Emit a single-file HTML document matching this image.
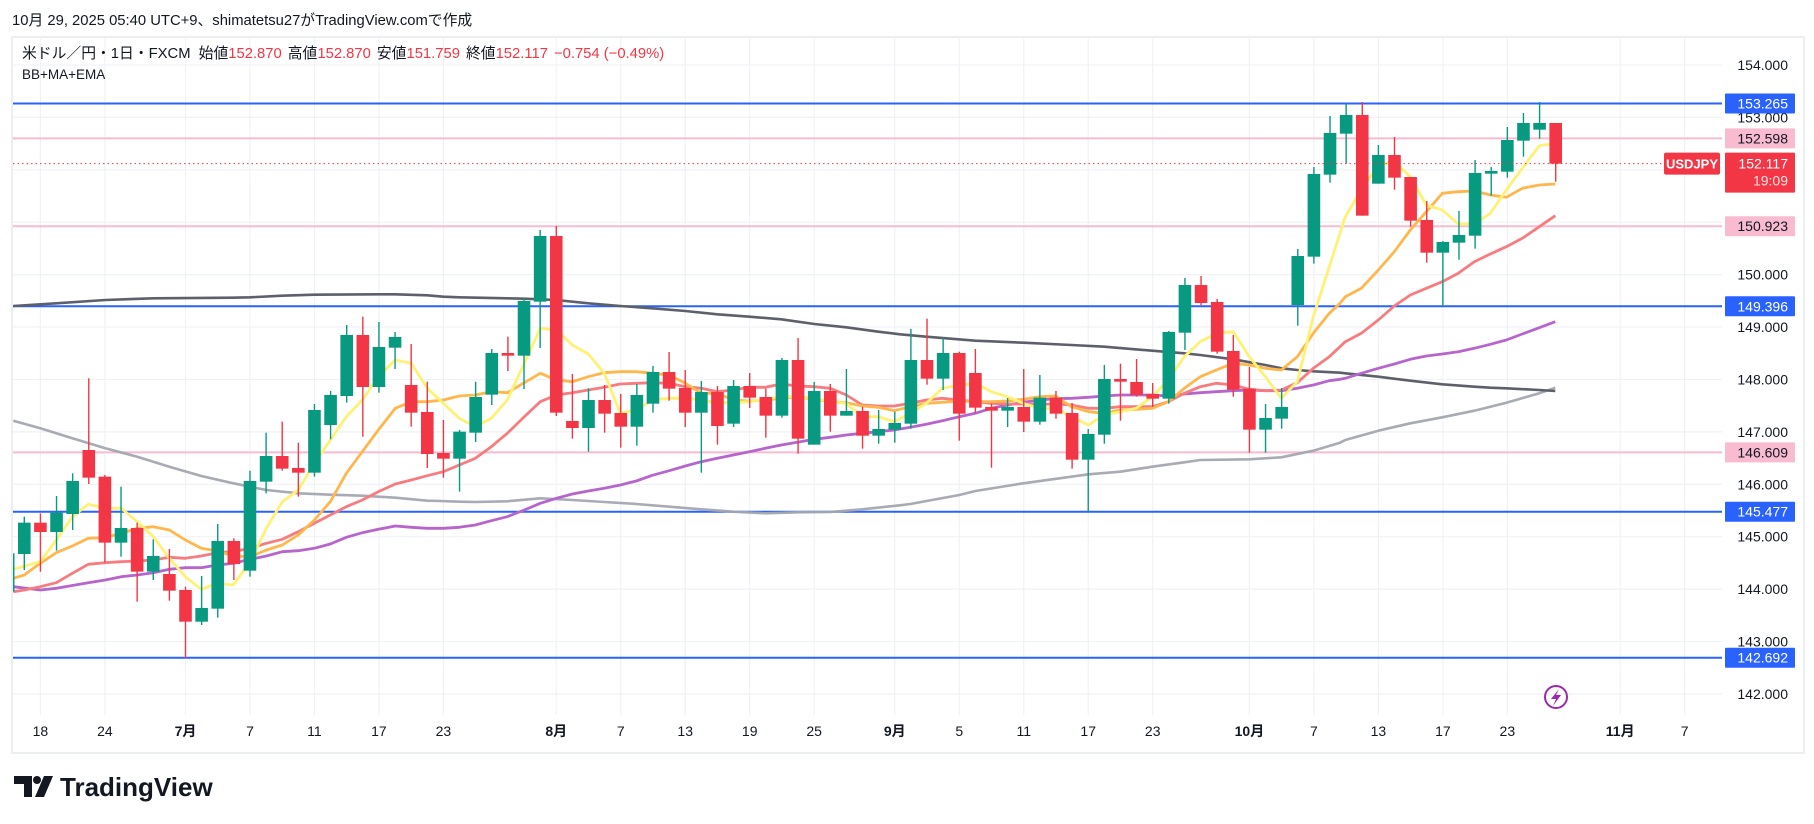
<!DOCTYPE html>
<html><head><meta charset="utf-8"><style>
html,body{margin:0;padding:0;background:#fff;width:1814px;height:824px;overflow:hidden}
svg{display:block}
text{font-family:"Liberation Sans","Noto Sans CJK JP",sans-serif}
</style></head><body>
<svg id="s" width="1814" height="824" viewBox="0 0 1814 824" xmlns="http://www.w3.org/2000/svg"></svg>
<script>
const S=document.getElementById('s');let h='';
const X=i=>24.3+i*16.12;
const Y=p=>511.7+(145.477-p)*52.42;
const PL=13,PR=1722,PT=37,PB=752;
h+=`<rect x="12" y="37" width="1792" height="716" fill="#fff" stroke="#eceef2" stroke-width="2"/>`;
for(let p=142;p<=154;p++){const y=Y(p);h+=`<line x1="${PL}" x2="${PR}" y1="${y}" y2="${y}" stroke="#f0f2f6" stroke-width="1.2"/>`;}
const tl=[[1,'18'],[5,'24'],[10,'7月',1],[14,'7'],[18,'11'],[22,'17'],[26,'23'],[33,'8月',1],[37,'7'],[41,'13'],[45,'19'],[49,'25'],[54,'9月',1],[58,'5'],[62,'11'],[66,'17'],[70,'23'],[76,'10月',1],[80,'7'],[84,'13'],[88,'17'],[92,'23'],[99,'11月',1],[103,'7']];
tl.forEach(t=>{const x=X(t[0]);h+=`<line x1="${x}" x2="${x}" y1="${PT}" y2="${715}" stroke="#f0f2f6" stroke-width="1.2"/>`;
h+=`<text x="${x}" y="736" font-size="14" text-anchor="middle" fill="#131722" ${t[2]?'font-weight="bold"':''}>${t[1]}</text>`;});
for(let p=142;p<=154;p++){h+=`<text x="1788" y="${Y(p)+5}" font-size="14" text-anchor="end" fill="#131722">${p}.000</text>`;}
const hl=[[153.265,'#2962ff'],[152.598,'#f8bbd0'],[150.923,'#f8bbd0'],[149.396,'#2962ff'],[146.609,'#f8bbd0'],[145.477,'#2962ff'],[142.692,'#2962ff']];
hl.forEach(l=>{const y=Y(l[0]);h+=`<line x1="${PL}" x2="${PR}" y1="${y}" y2="${y}" stroke="${l[1]}" stroke-width="2"/>`;});
function line(arr,col,w,op){let pts=[];arr.forEach(seg=>{const [ox,oy,d]=seg;for(let k=0;k<d.length;k+=2){pts.push([ox+d[k]/3,oy+d[k+1]/3]);}});
pts.sort((a,b)=>a[0]-b[0]);let out=[];pts.forEach(p=>{if(!out.length||p[0]-out[out.length-1][0]>3)out.push(p);});
h+=`<polyline fill="none" stroke="${col}" stroke-width="${w}" stroke-opacity="${op}" stroke-linejoin="round" points="${out.map(p=>p[0].toFixed(1)+','+p[1].toFixed(1)).join(' ')}"/>`;}
line([[0,200,[40,662,121,685,217,715,316,745,412,770,508,800,604,828,700,850,799,870,895,880,991,884,1087,887,1186,893,1282,902,1378,905]],
[440,200,[0,903,106,906,202,904,301,895,397,900,493,906,589,912,688,920,784,928,880,935,976,940,1072,937,1171,936,1267,928,1380,916]],
[880,200,[91,912,238,885,286,873,430,850,574,830,625,823,721,815,817,800,913,787,961,780,1108,778,1204,772,1300,752,1380,728]],
[1200,80,[244,1133,340,1110,436,1080,535,1052,631,1030,727,1012,823,992,919,968,1018,940,1066,923]]],'#a3a6af',2.6,0.95);
line([[0,200,[40,318,169,310,316,300,460,295,700,293,751,292,847,287,943,284,1135,283,1186,283,1282,286,1330,290,1378,292]],
[440,200,[202,295,253,296,349,300,445,310,541,318,637,325,736,333,832,343,928,350,1024,358,1123,372,1219,382,1315,395,1380,403]],
[880,200,[139,410,286,422,430,428,574,435,673,440,817,452,913,460,961,465,1060,478,1156,495,1204,505,1252,510,1300,514,1380,518]],
[1200,80,[244,862,340,872,436,880,535,890,631,902,727,913,823,920,871,923,919,925,1018,930,1066,933]]],'#5d606b',2.6,1);
line([[0,200,[40,1160,121,1170,169,1165,265,1148,316,1140,364,1130,412,1125,460,1118,508,1108,556,1103,604,1103,652,1095,700,1090,751,1078,799,1068,847,1055,895,1052,943,1045,991,1032,1039,1012,1087,998,1135,988,1186,978,1234,982,1282,985,1330,985,1378,982]],
[440,200,[58,982,106,975,154,962,202,950,253,930,301,910,349,895,397,882,445,873,493,865,541,855,589,843,637,826,688,812,736,798,784,785,832,775,880,765,928,755,976,745,1024,735,1072,727,1123,718,1171,712,1219,705,1267,700,1315,695,1363,690]],
[880,200,[91,682,139,673,187,662,238,650,286,640,334,625,382,615,430,607,478,600,526,596,574,595,625,592,673,588,721,585,769,585,817,585,865,588,913,582,961,578,1009,575,1060,572,1108,570,1156,572,1204,572,1252,565,1300,555,1380,538]],
[1200,80,[148,932,196,930,244,930,292,922,340,912,388,902,436,895,484,880,535,865,583,852,631,838,679,828,727,822,775,815,823,805,871,793,919,780,967,762,1018,743,1066,725]]],'#b665cc',2.8,1);
line([[0,200,[40,1175,73,1170,121,1160,169,1148,217,1120,265,1093,316,1088,364,1085,412,1083,460,1080,508,1072,556,1075,604,1068,652,1058,700,1055,751,1045,799,1030,847,1018,895,995,943,970,991,945,1039,920,1087,900,1135,875,1186,852,1234,840,1282,827,1330,815,1378,795]],
[440,200,[58,800,106,775,154,740,202,700,253,650,301,605,349,585,397,578,445,570,493,562,541,552,589,550,637,548,688,550,736,560,784,565,832,575,880,570,928,562,976,562,1024,552,1072,558,1123,560,1171,565,1219,585,1267,615,1315,618,1363,618]],
[880,200,[91,610,139,600,187,595,238,600,286,605,334,610,382,612,430,612,478,613,526,612,574,615,625,625,673,625,721,620,769,620,817,620,865,605,913,580,961,560,1009,550,1060,555,1108,568,1156,572,1204,570,1252,548,1300,505,1380,440]],
[1200,80,[244,930,292,905,340,860,388,830,436,785,484,760,535,720,583,678,631,645,679,625,727,605,775,580,823,545,871,522,919,500,967,475,1018,440,1066,407]]],'#f77c80',2.8,1);
line([[0,200,[40,1135,73,1125,121,1090,169,1058,217,1038,265,1015,316,1013,364,1000,412,985,460,980,508,990,556,1020,604,1045,652,1053,700,1068,751,1070,799,1050,847,1035,895,1005,943,960,991,905,1039,820,1087,755,1135,690,1186,625,1234,605,1282,605,1330,600,1378,588]],
[440,200,[58,588,106,585,154,575,202,578,253,548,301,520,349,540,397,545,445,530,493,518,541,515,589,515,637,520,688,525,736,550,784,580,832,580,880,600,928,603,976,600,1024,595,1072,590,1123,598,1171,605,1219,608,1267,618,1315,622,1363,632]],
[880,200,[91,620,139,610,187,607,238,603,286,605,334,605,382,603,430,598,478,590,526,588,574,620,625,635,673,640,721,630,769,628,817,625,865,605,913,565,961,530,1009,510,1060,490,1108,495,1156,505,1204,510,1252,470,1300,400,1380,310]],
[1200,80,[244,870,292,830,340,760,388,700,436,650,484,625,535,570,583,515,631,450,679,395,727,340,775,335,823,333,871,345,919,352,967,325,1018,315,1066,312]]],'#ffb74d',2.8,1);
line([[0,200,[40,1108,121,1085,169,1020,217,950,265,913,316,925,364,925,412,965,460,1010,508,1075,556,1130,604,1168,652,1150,700,1155,751,1085,799,985,847,905,895,870,943,790,991,720,1039,650,1087,600,1135,530,1186,480,1234,490,1282,565,1330,610,1378,655]],
[440,200,[58,655,106,680,154,655,202,600,253,490,301,385,349,390,397,435,445,462,493,520,541,640,589,630,637,600,688,595,736,595,784,600,832,608,880,608,928,605,976,598,1024,590,1072,590,1123,595,1171,605,1219,610,1267,650,1315,650,1363,665]],
[880,200,[91,640,139,610,187,565,238,555,286,550,334,575,382,590,430,610,478,625,526,625,574,650,625,675,673,645,721,635,769,625,817,590,865,540,913,470,961,425,1009,400,1060,395,1108,470,1156,530,1204,595,1252,545,1300,350]],
[1200,80,[244,955,292,900,340,700,388,560,436,410,484,330,535,255,583,245,631,290,679,375,727,390,775,432,823,432,871,400,919,330,967,265,1018,197,1066,190]]],'#fff176',2.8,1);
const C=[[200,[
[-1,'G',1060,1175,1060,1175],[0,'G',968,1062,950,1110],[1,'R',968,996,940,1115],[2,'G',938,996,888,1052],[3,'G',843,942,820,990],[4,'R',750,833,535,852],[5,'R',830,1028,825,1088],[6,'G',984,1028,860,1070],[7,'R',984,1115,968,1205],[8,'G',1068,1115,1018,1140],[9,'R',1122,1172,1047,1202],[10,'R',1170,1265,1160,1375],[11,'G',1224,1265,1128,1275],[12,'G',1023,1226,972,1253],[13,'R',1023,1092,1015,1140],[14,'G',843,1112,812,1130],[15,'G',768,845,698,880],[16,'R',768,806,665,812],[17,'R',804,818,728,890],[18,'G',630,818,612,830],[19,'G',585,675,573,718],[20,'G',405,588,375,608],[21,'R',405,561,350,710],[22,'G',441,561,366,578],[23,'G',411,443,396,507],[24,'R',555,638,432,680],[25,'R',636,762,545,804],[26,'R',759,776,660,833],[27,'G',695,776,690,875],
[28,'G',591,698,545,726],[29,'G',459,584,447,615],[30,'R',459,467,410,513],[31,'G',303,467,296,567],[32,'G',108,305,90,444],[33,'R',108,638,78,648],[34,'R',663,684,522,716],[35,'G',600,684,565,755],[36,'R',600,641,555,698],[37,'R',639,680,582,743],[38,'G',585,680,552,737],[39,'G',516,611,498,638],[40,'R',516,566,456,602],[41,'R',564,638,510,681],[42,'G',576,638,543,818],[43,'R',576,678,558,734],[44,'G',558,671,540,681],[45,'R',558,593,519,624],[46,'R',591,647,566,713],[47,'G',480,647,474,653],[48,'R',480,716,414,761],[49,'G',573,734,546,734],[50,'R',573,647,552,695],[51,'G',633,647,507,647],[52,'R',633,707,620,746],[53,'G',687,707,630,731],[54,'G',669,689,635,728],
[55,'G',480,671,387,686],[56,'R',480,536,356,554],[57,'G',459,536,413,570],[58,'R',459,641,455,722],[59,'R',519,623,447,638],[60,'R',621,632,611,803],[61,'G',621,632,594,681],[62,'R',621,665,507,696],[63,'G',593,665,525,674],[64,'R',593,641,573,656],[65,'R',639,779,609,806],[66,'G',702,779,687,935],[67,'G',537,704,495,731],[68,'R',537,545,491,662],[69,'R',546,585,477,590],[70,'R',582,596,549,621],[71,'G',396,596,393,611],[72,'G',255,398,234,450],[73,'R',255,309,228,315],[74,'R',306,455,297,461],[75,'R',453,569,405,590],[76,'R',566,689,501,758],[77,'G',654,689,612,758],[78,'G',621,656,564,686]]],
[80,[[79,'G',528,675,507,737],[80,'G',282,530,261,551],[81,'G',159,284,108,308],[82,'G',105,161,72,251],[83,'R',105,407,66,407],[84,'G',225,311,195,311],[85,'R',225,293,171,329],[86,'R',291,422,291,440],[87,'R',420,518,363,548],[88,'G',486,518,483,678],[89,'G',465,488,393,539],[90,'G',279,467,240,506],[91,'G',273,281,261,347],[92,'G',180,275,141,293],[93,'G',129,182,99,230],[94,'G',129,149,66,176],[95,'R',129,251,129,305]]]];
h+=`<clipPath id="cp"><rect x="${PL}" y="${PT}" width="${PR-PL}" height="${PB-PT}"/></clipPath><g clip-path="url(#cp)">`;
C.forEach(([oy,arr])=>arr.forEach(c=>{const x=X(c[0]);const col=c[1]=='G'?'#089981':'#f23645';
const bt=oy+c[2]/3,bb=oy+c[3]/3,wt=oy+c[4]/3,wb=oy+c[5]/3;
h+=`<line x1="${x}" x2="${x}" y1="${wt}" y2="${wb}" stroke="${col}" stroke-width="1.4"/>`;
h+=`<rect x="${x-6.3}" y="${bt}" width="12.6" height="${Math.max(bb-bt,1.5)}" fill="${col}"/>`;}));
h+=`</g>`;
const cy=Y(152.117);
h+=`<line x1="${PL}" x2="1664" y1="${cy}" y2="${cy}" stroke="#f23645" stroke-width="1" stroke-dasharray="1.5,3"/>`;
hl.forEach(l=>{const y=Y(l[0]);const blue=l[1]=='#2962ff';
h+=`<rect x="1725" y="${y-10}" width="70" height="20" fill="${blue?'#2962ff':'#f8bbd0'}" rx="1"/>`;
h+=`<text x="1788" y="${y+5}" font-size="14" text-anchor="end" fill="${blue?'#fff':'#131722'}">${l[0].toFixed(3)}</text>`;});
h+=`<rect x="1664" y="${cy-11}" width="56" height="22" fill="#f23645" rx="2"/><text x="1692" y="${cy+5}" font-size="13" font-weight="bold" text-anchor="middle" fill="#fff">USDJPY</text>`;
h+=`<rect x="1725" y="${cy-11}" width="70" height="40" fill="#f23645" rx="1"/><text x="1788" y="${cy+5}" font-size="14" text-anchor="end" fill="#fff">152.117</text><text x="1788" y="${cy+22}" font-size="14" text-anchor="end" fill="#fff" fill-opacity="0.85">19:09</text>`;
h+=`<circle cx="1556" cy="697" r="11" fill="none" stroke="#9c27b0" stroke-width="2"/><path d="M1559 689 L1551 699 L1556 699 L1553 706 L1561 695 L1556 695 Z" fill="#9c27b0"/>`;
h+=`<text x="12" y="25" font-size="14.8" fill="#131722">10月 29, 2025 05:40 UTC+9、shimatetsu27がTradingView.comで作成</text>`;
h+=`<text x="22" y="58" font-size="14.8" fill="#131722">米ドル／円・1日・FXCM <tspan dx="4">始値</tspan><tspan fill="#f23645">152.870</tspan><tspan dx="6">高値</tspan><tspan fill="#f23645">152.870</tspan><tspan dx="6">安値</tspan><tspan fill="#f23645">151.759</tspan><tspan dx="6">終値</tspan><tspan fill="#f23645">152.117</tspan><tspan dx="6" fill="#f23645">−0.754 (−0.49%)</tspan></text>`;
h+=`<text x="22" y="79" font-size="13.5" fill="#131722">BB+MA+EMA</text>`;
h+=`<path d="M14 776 H32 V797 H24 V784 H14 Z" fill="#131722"/><circle cx="37" cy="780" r="4" fill="#131722"/><path d="M44 776 H53 L44 797 H35 Z" fill="#131722"/>`;
h+=`<text x="60" y="796" font-size="26" font-weight="bold" fill="#131722">TradingView</text>`;
S.innerHTML=h;
</script>
</body></html>
